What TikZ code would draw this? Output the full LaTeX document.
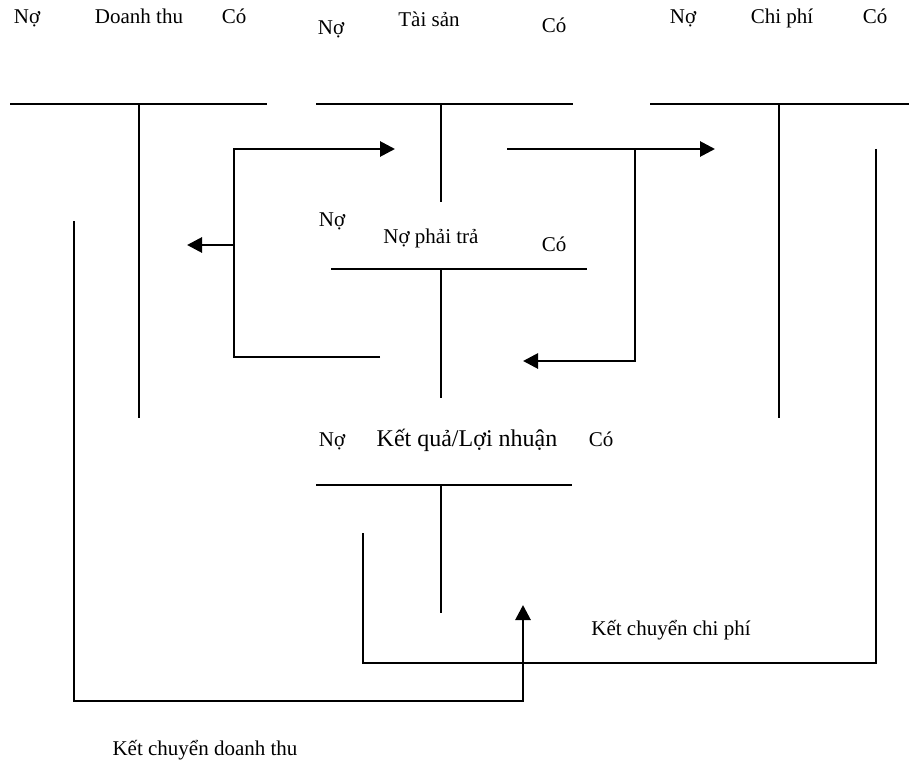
\documentclass[tikz,border=0pt]{standalone}
\usepackage{fontspec}
\setmainfont{Liberation Serif}
\usetikzlibrary{arrows.meta}
\begin{document}
\begin{tikzpicture}[x=1pt,y=-1pt,
  tline/.style={line width=2.4pt},
  flow/.style={line width=2.8pt},
  arr/.style={flow,-{Triangle[length=15pt,width=15pt]}},
  lbl/.style={anchor=base,inner sep=0pt,font=\fontsize{21}{24}\selectfont},
  big/.style={anchor=base,inner sep=0pt,font=\fontsize{24}{28}\selectfont}]
\useasboundingbox (0,0) rectangle (909,762);

% T-account: Doanh thu
\node[lbl] (dtNo) at (27,24) {Nợ};
\node[lbl] (dtName) at (139,24) {Doanh thu};
\node[lbl] (dtCo) at (234,24) {Có};
\coordinate (dtL) at (10,104); \coordinate (dtR) at (267,104);
\coordinate (dtT) at (139,104); \coordinate (dtB) at (139,418);
\draw[tline] (dtL) -- (dtR);
\draw[tline] (dtT) -- (dtB);

% T-account: Tài sản
\node[lbl] (tsNo) at (331,35) {Nợ};
\node[lbl] (tsName) at (429,27) {Tài sản};
\node[lbl] (tsCo) at (554,33) {Có};
\coordinate (tsL) at (316,104); \coordinate (tsR) at (573,104);
\coordinate (tsT) at (441,104); \coordinate (tsB) at (441,202);
\draw[tline] (tsL) -- (tsR);
\draw[tline] (tsT) -- (tsB);

% T-account: Chi phí
\node[lbl] (cpNo) at (683,24) {Nợ};
\node[lbl] (cpName) at (782,24) {Chi phí};
\node[lbl] (cpCo) at (875,24) {Có};
\coordinate (cpL) at (650,104); \coordinate (cpR) at (909,104);
\coordinate (cpT) at (779,104); \coordinate (cpB) at (779,418);
\draw[tline] (cpL) -- (cpR);
\draw[tline] (cpT) -- (cpB);

% T-account: Nợ phải trả
\node[lbl] (nptNo) at (332,226) {Nợ};
\node[lbl] (nptName) at (431,243) {Nợ phải trả};
\node[lbl] (nptCo) at (554,251) {Có};
\coordinate (nptL) at (331,269); \coordinate (nptR) at (587,269);
\coordinate (nptT) at (441,269); \coordinate (nptB) at (441,398);
\draw[tline] (nptL) -- (nptR);
\draw[tline] (nptT) -- (nptB);

% T-account: Kết quả/Lợi nhuận
\node[lbl] (kqNo) at (332,446) {Nợ};
\node[big] (kqName) at (467,446) {Kết quả/Lợi nhuận};
\node[lbl] (kqCo) at (601,446) {Có};
\coordinate (kqL) at (316,485); \coordinate (kqR) at (572,485);
\coordinate (kqT) at (441,485); \coordinate (kqB) at (441,613);
\draw[tline] (kqL) -- (kqR);
\draw[tline] (kqT) -- (kqB);

% Left loop: Nợ phải trả <-> Tài sản, Doanh thu
\coordinate (llStart) at (380,357);
\coordinate (llCorner) at (234,357);
\coordinate (llTop) at (234,149);
\coordinate (llTip) at (395,149);
\coordinate (llMid) at (234,245);
\coordinate (llLeft) at (187,245);
\draw[arr] (llStart) -- (llCorner) -- (llTop) -- (llTip);
\draw[arr] (llMid) -- (llLeft);

% Right loop: Tài sản -> Chi phí, -> Nợ phải trả
\coordinate (rlStart) at (507,149);
\coordinate (rlTip) at (715,149);
\coordinate (rlTop) at (635,149);
\coordinate (rlBot) at (635,361);
\coordinate (rlLeft) at (523,361);
\draw[arr] (rlStart) -- (rlTip);
\draw[arr] (rlTop) -- (rlBot) -- (rlLeft);

% Closing entries
\coordinate (cdStart) at (74,221);
\coordinate (cdBL) at (74,701);
\coordinate (cdBR) at (523,701);
\coordinate (cdTip) at (523,605);
\draw[arr] (cdStart) -- (cdBL) -- (cdBR) -- (cdTip);

\coordinate (ccStart) at (876,149);
\coordinate (ccBR) at (876,663);
\coordinate (ccBL) at (363,663);
\coordinate (ccEnd) at (363,533);
\draw[flow] (ccStart) -- (ccBR) -- (ccBL) -- (ccEnd);

\node[lbl] (ccLabel) at (671,635) {Kết chuyển chi phí};
\node[lbl] (cdLabel) at (205,755) {Kết chuyển doanh thu};
\end{tikzpicture}
\end{document}
